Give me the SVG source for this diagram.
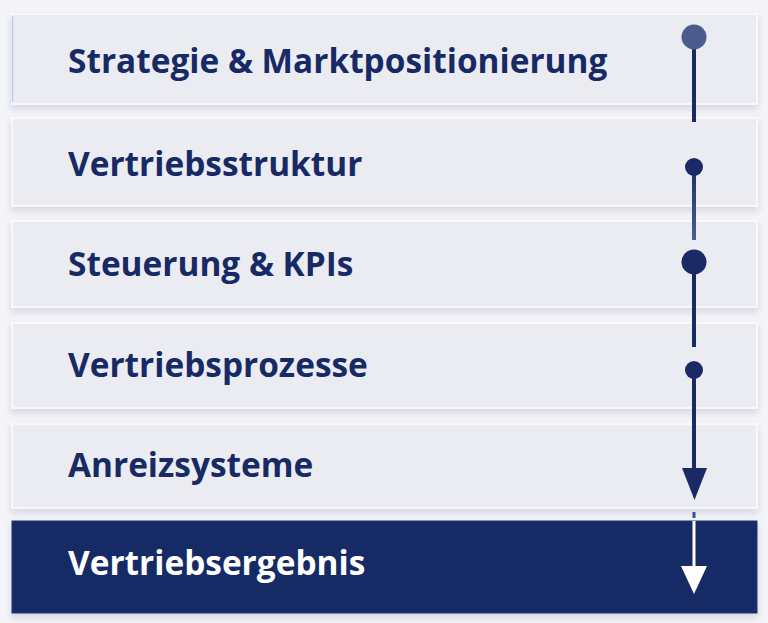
<svg xmlns="http://www.w3.org/2000/svg" width="768" height="623" viewBox="0 0 768 623">
  <defs>
    <filter id="sh" x="-5%" y="-20%" width="110%" height="150%">
      <feDropShadow dx="0" dy="4" stdDeviation="3.5" flood-color="#2a3560" flood-opacity="0.16"/>
    </filter>
    <linearGradient id="lg2" gradientUnits="userSpaceOnUse" x1="0" y1="167" x2="0" y2="240">
      <stop offset="0" stop-color="#1f2f6c"/>
      <stop offset="1" stop-color="#4a5d97"/>
    </linearGradient>
    <style>
      .box { fill: #ebecf2; stroke: #fbfbfd; stroke-width: 1.5; filter: url(#sh); }
      .dark { fill: #182a66; stroke: #22356f; stroke-width: 1; filter: url(#sh); }
      .lbl { font-family: "Open Sans", "Noto Sans", "DejaVu Sans", sans-serif; font-weight: 700; font-size: 33.4px; fill: #182a66; }
      .lbl.w { fill: #ffffff; }
      .ln { stroke: #1a2a66; stroke-width: 4; fill: none; }
      .dot { fill: #1a2a66; }
    </style>
  </defs>
  <rect width="768" height="623" fill="#f4f5f8"/>

  <g id="n1">
    <rect class="box" x="12" y="14" width="745" height="90"/>
    <line x1="12.5" y1="16" x2="12.5" y2="102" stroke="#b8c4e6" stroke-width="1.2"/>
    <text class="lbl" x="68" y="73">Strategie &amp; Marktpositionierung</text>
  </g>
  <g id="n2">
    <rect class="box" x="12" y="118" width="745" height="88"/>
    <text class="lbl" x="68" y="176">Vertriebsstruktur</text>
  </g>
  <g id="n3">
    <rect class="box" x="12" y="221" width="745" height="86"/>
    <text class="lbl" x="68" y="276">Steuerung &amp; KPIs</text>
  </g>
  <g id="n4">
    <rect class="box" x="12" y="323" width="745" height="85"/>
    <text class="lbl" x="68" y="377">Vertriebsprozesse</text>
  </g>
  <g id="n5">
    <rect class="box" x="12" y="424" width="745" height="84"/>
    <text class="lbl" x="68" y="477">Anreizsysteme</text>
  </g>
  <g id="n6">
    <rect class="dark" x="12" y="521" width="745" height="92"/>
    <text class="lbl w" x="68" y="575">Vertriebsergebnis</text>
  </g>

  <g id="connectors">
    <line class="ln" x1="694" y1="37" x2="694" y2="122"/>
    <circle cx="694" cy="37" r="12.5" fill="#4d5c8f"/>
    <line x1="694" y1="167" x2="694" y2="240" stroke="url(#lg2)" stroke-width="4"/>
    <circle class="dot" cx="694" cy="167" r="9"/>
    <line class="ln" x1="694" y1="262" x2="694" y2="347"/>
    <circle class="dot" cx="694" cy="262" r="12.5"/>
    <line class="ln" x1="694" y1="370" x2="694" y2="472"/>
    <circle class="dot" cx="694" cy="370" r="9"/>
    <polygon class="dot" points="682,468 707,468 694.5,500"/>
    <line x1="694" y1="512" x2="694" y2="518" stroke="#3c4f8a" stroke-width="3"/>
    <line x1="694" y1="521" x2="694" y2="568" stroke="#ffffff" stroke-width="3"/>
    <polygon points="681,566 707,566 694,594" fill="#ffffff"/>
  </g>
</svg>
